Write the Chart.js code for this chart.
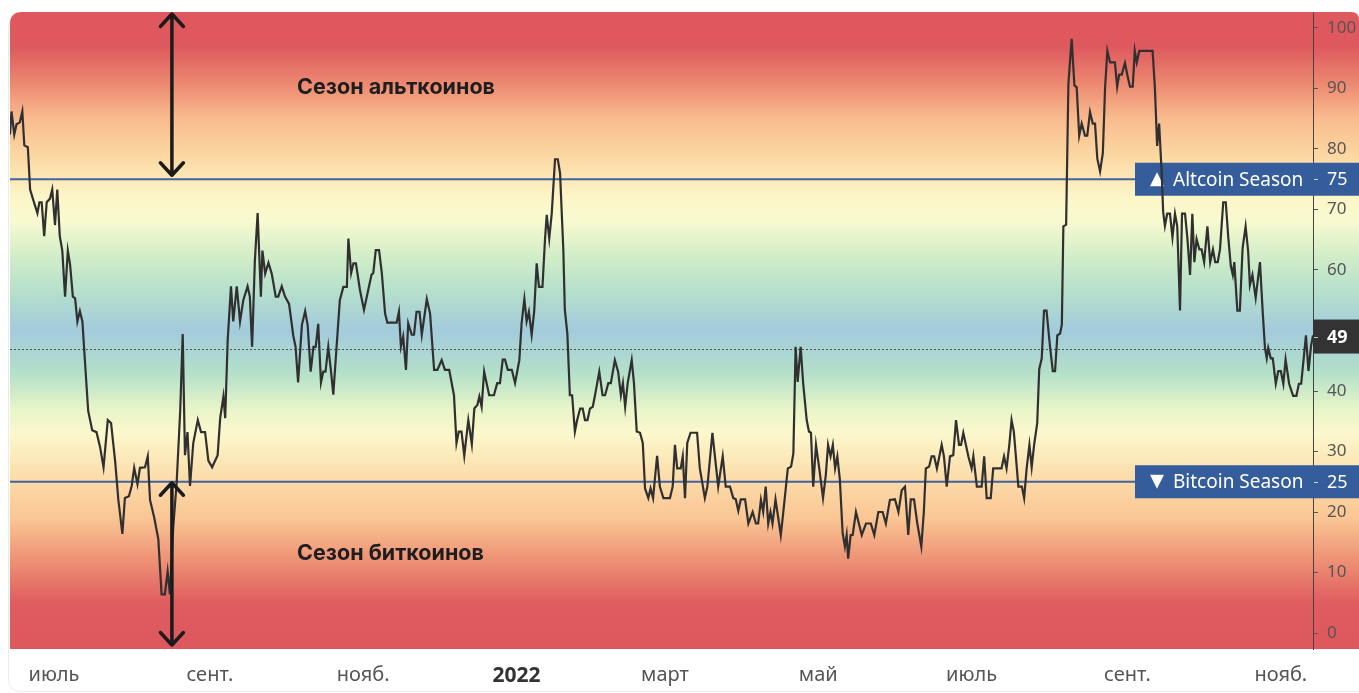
<!DOCTYPE html>
<html>
<head>
<meta charset="utf-8">
<script src="https://cdn.jsdelivr.net/npm/chart.js@4.4.1/dist/chart.umd.min.js"></script>
<style>
html,body{margin:0;padding:0;background:#fff;overflow:hidden}
#wrap{position:relative;width:1359px;height:693px}
</style>
</head>
<body>
<div id="wrap"><canvas id="c" width="1359" height="693"></canvas></div>
<script>
// ---- data (x = days since 2021-07-01) ----
const days = [
-17.5,-16.9,-15.8,-14.9,-13.6,-12.6,-11.8,-10.4,-9.5,-8.2,-6.6,-5.8,-4.9,-3.9,-2.9,-1.6,-0.7,0.4,1.3,2.3,3.3,4.4,5.5,6.4,7.5,8.4,9.3,10.3,11.3,12.3,13.6,15.2,16.9,18.3,19.7,21.4,22.7,24.3,25.6,27.2,28.2,29.8,30.9,31.9,33.2,34.2,36.2,37.3,38.2,39.9,41.5,42.8,44.1,45.2,46.1,47.4,48.8,50.2,51.2,52.1,53.1,54.1,55.4,57.2,58.5,60.1,61.4,62.9,65.1,66.1,67.4,68.1,69.1,70.4,71.3,72.7,74.0,75.3,77.0,77.9,78.8,79.9,81.0,82.3,82.9,84.0,85.3,86.6,88.2,89.2,90.6,91.9,93.5,95.2,96.1,97.1,98.6,99.9,100.9,102.1,103.2,104.1,105.1,106.2,107.1,108.0,109.1,110.2,111.1,112.4,113.7,
115.1,116.5,117.1,118.2,119.1,120.1,121.7,123.3,125.0,126.3,127.0,128.0,129.3,130.4,131.7,132.6,134.3,136.3,137.2,138.0,138.9,140.0,140.9,142.3,143.2,144.2,145.4,146.3,148.3,149.6,151.2,152.5,154.2,155.5,157.2,159.1,160.1,161.0,162.1,163.2,164.8,166.2,167.2,168.4,169.2,170.1,171.1,173.1,175.0,176.3,177.4,178.5,179.4,180.5,182.1,183.4,185.1,186.0,187.1,188.0,188.9,190.0,191.0,192.0,192.9,194.3,195.3,196.0,197.0,198.0,199.3,200.4,201.3,202.6,203.2,204.2,205.2,206.1,207.2,208.1,209.3,210.3,211.2,212.2,213.2,214.3,215.2,216.9,218.2,219.2,220.5,221.5,223.1,224.4,225.5,226.3,227.2,228.2,229.8,230.7,231.8,233.1,234.2,235.1,236.4,237.3,238.3,239.9,241.0,
242.4,245.0,246.1,247.0,247.9,249.3,250.1,251.0,251.9,253.2,255.8,256.9,258.9,259.9,261.9,262.9,264.2,266.0,267.2,268.9,270.2,271.2,272.2,273.2,274.9,276.2,277.9,279.2,280.1,281.2,282.1,283.1,284.1,285.0,285.8,287.0,289.1,290.1,291.9,293.2,294.1,295.0,295.8,297.0,298.0,299.4,300.3,301.1,302.0,303.1,304.4,305.9,307.0,307.9,308.9,309.8,310.7,311.6,312.6,313.7,314.6,315.3,315.9,316.9,317.7,319.0,321.3,323.0,324.9,326.3,327.9,329.6,330.9,332.5,334.5,335.9,337.2,338.5,339.8,340.8,342.1,343.4,345.0,346.0,346.8,348.1,349.1,350.1,351.2,353.1,354.0,355.1,356.4,357.7,358.8,360.0,360.8,361.7,363.7,365.0,365.7,367.1,369.0,370.0,371.0,372.6,373.6,376.9,377.9,378.9,380.0,380.9,381.8,383.6,385.0,385.9,386.9,388.0,
388.9,389.9,391.1,391.9,392.9,393.8,394.8,396.1,397.3,398.2,399.1,400.2,400.9,401.5,402.6,403.5,404.8,405.9,406.8,407.8,408.8,410.1,411.0,412.1,413.2,414.1,415.0,416.1,417.2,418.1,419.0,420.1,422.0,422.9,423.7,424.7,426.0,426.9,428.0,429.1,429.9,430.7,431.7,437.0,437.9,438.8,439.6,440.6,441.2,441.9,442.8,443.9,444.9,445.9,446.8,447.9,448.7,449.9,450.8,451.9,452.8,453.6,454.5,455.6,456.5,457.5,458.8,459.9,461.0,461.9,462.9,463.8,465.1,466.1,467.1,468.1,468.9,469.5,470.7,471.7,472.8,474.0,475.0,475.7,476.7,478.0,479.7,480.8,481.7,482.4,483.0,484.0,484.8,486.0,487.0,488.0,489.0,489.9,491.3,492.9,494.2,495.2,496.1,498.0,499.0,500.0,500.8
];
const values = [
82.4,86.2,82.4,84.1,84.4,86.2,80.6,80.3,73.3,71.5,69.4,71.2,71.2,65.6,71.2,71.8,73.3,67.4,73.3,65.6,63.2,55.6,63.2,60.9,55.6,55.3,51.5,53.2,51.5,45.0,36.7,33.5,33.2,30.8,27.4,35.2,34.7,28.5,22.0,16.4,22.3,22.6,24.3,27.3,24.6,27.3,27.4,29.2,22.0,19.0,15.5,6.4,6.4,10.2,6.4,17.3,24.9,36.7,49.4,29.4,33.2,24.3,31.4,35.2,33.2,33.2,28.5,27.4,29.4,35.5,39.1,35.5,48.5,57.3,51.5,57.3,51.5,55.0,57.3,55.6,47.3,61.5,69.4,55.6,63.2,59.4,61.2,59.4,55.6,55.6,57.3,55.6,54.4,49.1,47.3,41.4,50.9,53.2,50.9,43.2,47.3,47.3,51.1,41.4,43.2,43.2,47.3,43.2,39.4,47.3,55.0,
57.2,57.2,65.2,59.5,61.1,61.1,56.7,53.4,56.7,59.2,59.5,63.3,63.3,59.5,52.8,51.3,51.3,51.3,53.1,47.3,49.0,43.5,51.2,49.3,49.3,53.1,53.1,49.3,55.2,52.8,43.5,43.5,45.1,43.5,43.5,39.3,31.4,33.3,33.3,29.3,35.2,31.2,37.1,37.7,39.1,37.4,43.2,39.3,39.3,41.3,41.3,45.2,45.2,43.5,43.5,41.3,45.1,51.2,55.2,51.5,53.1,49.3,53.1,61.1,57.2,57.2,65.0,69.1,65.2,69.4,78.3,78.3,76.0,63.3,53.4,49.5,39.3,39.3,33.3,35.2,37.1,37.1,35.2,35.2,37.1,37.4,39.3,43.2,39.3,39.3,41.3,41.3,45.1,43.2,39.3,41.3,37.4,41.3,45.1,41.3,33.3,33.1,31.4,23.9,22.3,23.9,22.3,29.3,24.2,
22.3,22.3,24.2,31.1,27.2,27.2,29.2,22.3,31.4,33.1,33.1,27.2,22.3,24.2,33.1,29.2,24.2,29.2,24.2,24.2,22.3,22.1,20.2,22.1,22.1,18.1,20.0,18.1,18.1,22.0,20.0,24.2,18.1,20.0,18.1,22.1,16.2,20.0,27.2,27.5,29.7,47.3,41.5,47.3,41.3,35.2,33.3,33.1,24.2,31.1,27.2,22.3,26.1,31.1,29.2,31.1,27.2,29.2,25.3,16.5,14.3,16.2,12.3,16.2,16.2,20.0,16.2,18.1,18.1,16.2,20.0,20.0,18.1,22.0,22.1,20.0,23.6,24.2,16.2,22.1,22.1,18.1,14.3,20.0,27.2,27.5,29.2,29.2,27.2,31.1,29.2,24.2,29.2,29.4,35.2,31.1,31.1,33.1,29.2,27.2,29.2,24.2,24.2,29.2,22.3,22.3,27.2,27.2,29.2,27.2,31.1,35.2,33.3,24.2,24.2,22.3,27.2,31.1,
27.4,31.2,34.7,43.6,45.4,53.3,53.3,47.7,43.3,43.3,49.2,49.5,51.0,67.2,67.5,90.8,98.2,90.5,90.2,82.2,84.2,82.2,82.2,86.1,84.2,84.2,78.4,76.3,79.3,90.2,96.2,94.3,94.3,90.3,92.3,92.3,94.2,92.3,90.3,90.3,96.2,94.3,96.2,96.2,90.2,80.5,84.2,76.1,69.6,67.3,69.3,69.3,65.4,69.3,67.2,53.3,69.3,69.3,65.4,59.2,69.3,61.3,65.1,63.4,63.4,61.3,67.2,61.3,63.4,61.3,61.3,63.4,71.2,71.2,65.4,60.7,59.2,61.3,53.3,53.3,63.6,67.2,63.1,57.5,59.2,55.4,61.3,53.0,47.1,45.4,47.1,45.4,45.4,41.2,43.3,43.3,41.2,45.2,41.2,39.2,39.2,41.2,41.2,49.2,43.3,47.4,49.2
];
const monthTickDays = [0, 62, 123, 184, 243, 304, 365, 427, 488];
const monthTickLabels = ['июль', 'сент.', 'нояб.', '2022', 'март', 'май', 'июль', 'сент.', 'нояб.'];
const yTickValues = [0, 10, 20, 30, 40, 50, 60, 70, 80, 90, 100];
const seasonLevels = [75, 25];
const seasonLabels = ['Altcoin Season', 'Bitcoin Season'];
const currentValue = 49;
const referenceLevel = 47;
const annotationTexts = ['Сезон альткоинов', 'Сезон биткоинов'];

// ---- styles ----
const W = 1359, H = 693;
const X_MIN = -17.5, X_MAX = 500.8, Y_MIN = -2.64, Y_MAX = 102.64;
const bgStops = [
  [Y_MAX, 'rgb(222,88,94)'], [97, 'rgb(222,88,94)'], [91, 'rgb(236,135,112)'],
  [85, 'rgb(249,188,142)'], [79, 'rgb(252,215,162)'], [72, 'rgb(252,246,200)'],
  [68, 'rgb(248,250,208)'], [62, 'rgb(208,237,200)'], [56, 'rgb(180,222,205)'],
  [50, 'rgb(163,203,220)'], [43, 'rgb(180,224,202)'], [37, 'rgb(232,245,200)'],
  [33, 'rgb(252,248,205)'], [26, 'rgb(252,222,172)'], [19, 'rgb(250,198,148)'],
  [12, 'rgb(238,145,117)'], [5, 'rgb(223,92,95)'], [Y_MIN, 'rgb(222,88,94)']
];
const FONT = '"Noto Sans", "DejaVu Sans", sans-serif';
const isYear = (i) => /^\d{4}$/.test(monthTickLabels[i] || '');

function roundPath(ctx, x, y, w, h, r) {
  const [tl, tr, br, bl] = r;
  ctx.beginPath();
  ctx.moveTo(x + tl, y);
  ctx.lineTo(x + w - tr, y);
  ctx.quadraticCurveTo(x + w, y, x + w, y + tr);
  ctx.lineTo(x + w, y + h - br);
  ctx.quadraticCurveTo(x + w, y + h, x + w - br, y + h);
  ctx.lineTo(x + bl, y + h);
  ctx.quadraticCurveTo(x, y + h, x, y + h - bl);
  ctx.lineTo(x, y + tl);
  ctx.quadraticCurveTo(x, y, x + tl, y);
  ctx.closePath();
}

const backgroundPlugin = {
  id: 'bg',
  beforeDraw(chart) {
    const { ctx, chartArea: ca, scales: { y } } = chart;
    ctx.save();
    ctx.fillStyle = '#fff';
    ctx.fillRect(0, 0, W, H);
    roundPath(ctx, 8.5, ca.top + 2.5, W + 10, H - ca.top - 4, [13, 13, 13, 13]);
    ctx.strokeStyle = '#ebebeb';
    ctx.lineWidth = 1;
    ctx.stroke();
    const g = ctx.createLinearGradient(0, ca.top, 0, ca.bottom);
    bgStops.forEach(([v, c]) => {
      let p = (y.getPixelForValue(v) - ca.top) / (ca.bottom - ca.top);
      p = Math.max(0, Math.min(1, p));
      g.addColorStop(p, c);
    });
    roundPath(ctx, ca.left, ca.top, W - ca.left, ca.bottom - ca.top, [12, 8, 0, 0]);
    ctx.fillStyle = g;
    ctx.fill();
    ctx.restore();
  }
};

const levelsPlugin = {
  id: 'levels',
  beforeDatasetsDraw(chart) {
    const { ctx, chartArea: ca, scales: { y } } = chart;
    ctx.save();
    const ry = Math.round(y.getPixelForValue(referenceLevel)) + 0.5;
    ctx.setLineDash([2, 2]);
    ctx.strokeStyle = 'rgba(70,70,70,0.9)';
    ctx.lineWidth = 1;
    ctx.beginPath(); ctx.moveTo(ca.left, ry); ctx.lineTo(ca.right, ry); ctx.stroke();
    ctx.setLineDash([]);
    seasonLevels.forEach((lv, i) => {
      const py = y.getPixelForValue(lv);
      ctx.strokeStyle = 'rgba(58,92,158,0.95)';
      ctx.lineWidth = 2;
      ctx.beginPath(); ctx.moveTo(ca.left, py); ctx.lineTo(ca.right, py); ctx.stroke();
      const bx = 1135, bh = 33;
      ctx.fillStyle = '#355d9b';
      ctx.fillRect(bx, py - bh / 2, W - bx, bh);
      ctx.fillStyle = '#ffffff';
      ctx.beginPath();
      if (i === 0) {
        ctx.moveTo(1150, py + 7); ctx.lineTo(1164, py + 7); ctx.lineTo(1157, py - 7);
      } else {
        ctx.moveTo(1150, py - 7); ctx.lineTo(1164, py - 7); ctx.lineTo(1157, py + 7);
      }
      ctx.closePath(); ctx.fill();
      ctx.font = '19px ' + FONT;
      ctx.textBaseline = 'middle';
      ctx.textAlign = 'left';
      ctx.fillText(seasonLabels[i], 1173, py + 1);
      ctx.fillStyle = 'rgba(230,235,245,0.85)';
      ctx.fillRect(ca.right + 1, Math.round(py), 4, 1);
      ctx.fillStyle = '#ffffff';
      ctx.font = '18px ' + FONT;
      ctx.fillText(String(lv), 1327, py + 1);
    });
    const cy = y.getPixelForValue(currentValue);
    ctx.fillStyle = '#333333';
    ctx.fillRect(ca.right, cy - 17, W - ca.right, 34);
    ctx.fillStyle = 'rgba(230,230,230,0.8)';
    ctx.fillRect(ca.right + 1, Math.round(cy), 4, 1);
    ctx.fillStyle = '#ffffff';
    ctx.font = 'bold 18px ' + FONT;
    ctx.textBaseline = 'middle';
    ctx.textAlign = 'left';
    ctx.fillText(String(currentValue), 1327, cy + 1);
    ctx.restore();
  }
};

function drawArrow(ctx, x, y1, y2) {
  const hw = 11.5, hh = 12.5;
  ctx.beginPath();
  ctx.moveTo(x, y1); ctx.lineTo(x, y2);
  ctx.moveTo(x - hw, y1 + hh); ctx.lineTo(x, y1); ctx.lineTo(x + hw, y1 + hh);
  ctx.moveTo(x - hw, y2 - hh); ctx.lineTo(x, y2); ctx.lineTo(x + hw, y2 - hh);
  ctx.stroke();
}

const annotationPlugin = {
  id: 'annot',
  afterDatasetsDraw(chart) {
    const { ctx, chartArea: ca, scales: { x, y } } = chart;
    ctx.save();
    ctx.strokeStyle = '#1b1b1b';
    ctx.lineWidth = 3.5;
    ctx.lineCap = 'round';
    ctx.lineJoin = 'round';
    const ax = x.getPixelForValue(46.9);
    drawArrow(ctx, ax, ca.top + 2, y.getPixelForValue(seasonLevels[0]) - 4);
    drawArrow(ctx, ax, y.getPixelForValue(seasonLevels[1]) + 1, ca.bottom - 4);
    ctx.fillStyle = '#1e1e1e';
    ctx.font = 'bold 21.5px Inter, "Open Sans", sans-serif';
    ctx.textAlign = 'left';
    ctx.textBaseline = 'middle';
    const tx = x.getPixelForValue(96.7);
    ctx.fillText(annotationTexts[0], tx, y.getPixelForValue(90.2));
    ctx.fillText(annotationTexts[1], tx, y.getPixelForValue(13.1));
    ctx.restore();
  }
};

const ctx = document.getElementById('c').getContext('2d');
new Chart(ctx, {
  type: 'line',
  data: {
    datasets: [{
      data: days.map((d, i) => ({ x: d, y: values[i] })),
      borderColor: '#303030',
      borderWidth: 2.2,
      pointRadius: 0,
      tension: 0,
      fill: false
    }]
  },
  options: {
    responsive: false,
    animation: false,
    devicePixelRatio: 1,
    layout: { padding: { left: 10, top: 12, right: 0, bottom: 0 } },
    plugins: { legend: { display: false }, tooltip: { enabled: false } },
    scales: {
      x: {
        type: 'linear',
        position: 'bottom',
        min: X_MIN,
        max: X_MAX,
        grid: { display: false },
        border: { display: false },
        afterBuildTicks: (s) => { s.ticks = monthTickDays.map(v => ({ value: v })); },
        afterFit: (s) => { s.height = 44; s.paddingLeft = 0; s.paddingRight = 0; },
        ticks: {
          autoSkip: false,
          maxRotation: 0,
          padding: 6,
          callback: (v, i) => monthTickLabels[i],
          color: (c) => isYear(c.index) ? '#333' : '#555',
          font: (c) => ({ family: FONT, size: isYear(c.index) ? 21 : 20, weight: isYear(c.index) ? 'bold' : 'normal' })
        }
      },
      y: {
        type: 'linear',
        position: 'right',
        min: Y_MIN,
        max: Y_MAX,
        afterBuildTicks: (s) => { s.ticks = yTickValues.map(v => ({ value: v })); },
        afterFit: (s) => { s.width = 46; s.paddingTop = 0; s.paddingBottom = 0; },
        grid: { drawOnChartArea: false, drawTicks: true, tickLength: 5, color: '#555', lineWidth: 1 },
        border: { display: true, color: '#444', width: 1 },
        ticks: { padding: 9, color: '#555', font: { family: FONT, size: 17 } }
      }
    }
  },
  plugins: [backgroundPlugin, levelsPlugin, annotationPlugin]
});
</script>
</body>
</html>
